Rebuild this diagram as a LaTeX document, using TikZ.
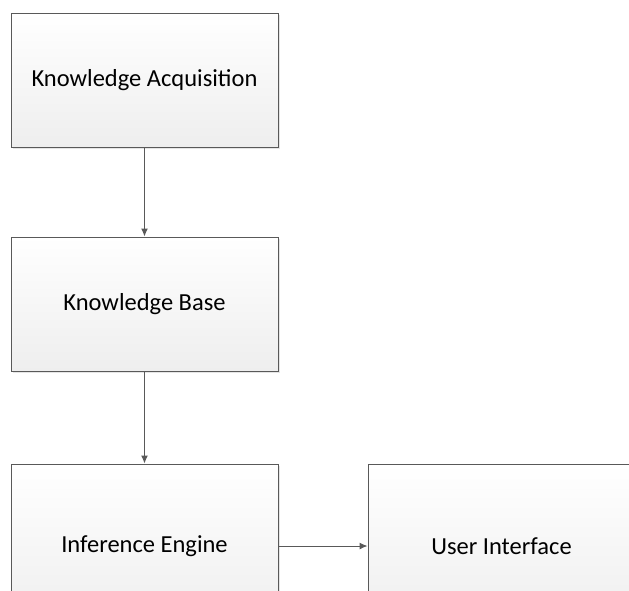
\documentclass[tikz,border=0pt]{standalone}
\usepackage{fontspec}
\setmainfont{Carlito}
\usepackage{xcolor}
\usetikzlibrary{arrows.meta, positioning, shadows}
\definecolor{linegray}{RGB}{89,89,89}
\definecolor{boxgray}{RGB}{238,238,238}

\begin{document}
\begin{tikzpicture}[x=1pt, y=-1pt]
\tikzset{block/.style={draw=linegray, line width=1pt, top color=white, bottom color=boxgray,
  minimum width=267pt, minimum height=134pt, inner sep=0pt,
  drop shadow={shadow xshift=2pt, shadow yshift=-2pt, fill=black, opacity=0.1},
  font=\fontsize{24.5}{28}\selectfont}}
\tikzset{flow/.style={->, >={Latex[length=8pt, width=7pt]}, draw=linegray, line width=1pt}}
\useasboundingbox (0,0) rectangle (629,590);
\clip (0,0) rectangle (629,590);
\node[block] (acq) at (144.5,80) {Knowledge Acquisition};
\node[block, below=89pt of acq] (kb) {Knowledge Base};
\node[block, below=92pt of kb, minimum height=164pt] (ie) {Inference Engine};
\node[block, right=89pt of ie, minimum height=164pt] (ui) {User Interface};
\draw[flow] (acq) -- (kb);
\draw[flow] (kb) -- (ie);
\draw[flow] (ie) -- (ui);
\end{tikzpicture}
\end{document}
